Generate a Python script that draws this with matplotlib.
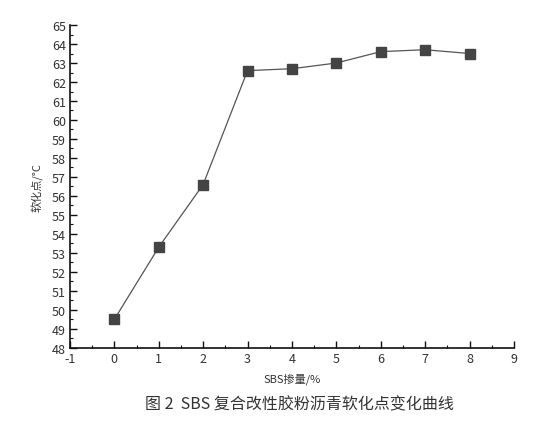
import matplotlib
matplotlib.use("Agg")
import matplotlib.pyplot as plt
from matplotlib.ticker import MultipleLocator

# ==========================
# DATA
# ==========================
sbs_content = [0, 1, 2, 3, 4, 5, 6, 7, 8]
softening_point = [49.5, 53.3, 56.6, 62.6, 62.7, 63.0, 63.6, 63.7, 63.5]

x_label = "SBS掺量/%"
y_label = "软化点/°C"
caption = "图 2  SBS 复合改性胶粉沥青软化点变化曲线"

plt.rcParams["font.family"] = ["Noto Sans CJK SC", "DejaVu Sans"]
plt.rcParams["axes.unicode_minus"] = False

# ==========================
# PLOT
# ==========================
fig = plt.figure(figsize=(5.55, 4.27), dpi=100)
ax = fig.add_axes([0.126, 0.183, 0.800, 0.756])

ax.plot(sbs_content, softening_point, color="#555555", linewidth=0.9,
        marker="s", markersize=6.5, markerfacecolor="#444444",
        markeredgecolor="#444444", zorder=3)

ax.set_xlim(-1, 9)
ax.set_ylim(48, 65)
ax.xaxis.set_major_locator(MultipleLocator(1))
ax.xaxis.set_minor_locator(MultipleLocator(0.5))
ax.yaxis.set_major_locator(MultipleLocator(1))
ax.yaxis.set_minor_locator(MultipleLocator(0.5))

for side in ["top", "right"]:
    ax.spines[side].set_visible(False)
for side in ["left", "bottom"]:
    ax.spines[side].set_linewidth(1.2)
    ax.spines[side].set_color("#111111")

ax.tick_params(which="major", direction="in", length=5, width=1.0,
               labelsize=9, colors="#111111", labelcolor="#333333", pad=3)
ax.tick_params(which="minor", direction="in", length=2.5, width=0.8,
               colors="#111111")

ax.set_xlabel(x_label, fontsize=8, color="#333333", labelpad=5)
ax.set_ylabel(y_label, fontsize=8, color="#333333", labelpad=6)

fig.text(0.54, 0.052, caption, fontsize=11.5, color="#333333",
         ha="center", va="center")

fig.savefig("out.png", dpi=100)
